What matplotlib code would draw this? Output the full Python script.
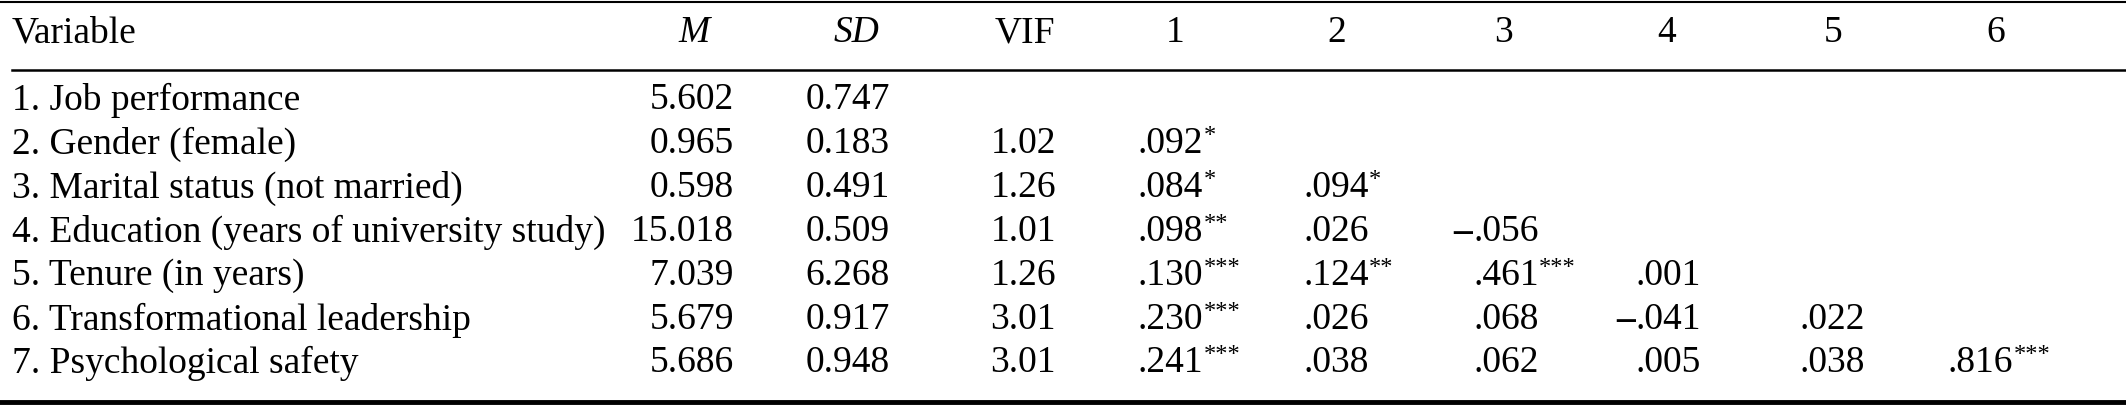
import matplotlib
matplotlib.use("Agg")
import matplotlib.pyplot as plt

variables = ["1. Job performance", "2. Gender (female)", "3. Marital status (not married)",
             "4. Education (years of university study)", "5. Tenure (in years)",
             "6. Transformational leadership", "7. Psychological safety"]
means = ["5.602", "0.965", "0.598", "15.018", "7.039", "5.679", "5.686"]
sds = ["0.747", "0.183", "0.491", "0.509", "6.268", "0.917", "0.948"]
vifs = ["", "1.02", "1.26", "1.01", "1.26", "3.01", "3.01"]
corr = [
    [],
    [(".092", "*")],
    [(".084", "*"), (".094", "*")],
    [(".098", "**"), (".026", ""), ("-.056", "")],
    [(".130", "***"), (".124", "**"), (".461", "***"), (".001", "")],
    [(".230", "***"), (".026", ""), (".068", ""), ("-.041", ""), (".022", "")],
    [(".241", "***"), (".038", ""), (".062", ""), (".005", ""), (".038", ""), (".816", "***")],
]
corr_headers = ["1", "2", "3", "4", "5", "6"]

W, H = 2126, 413
fig = plt.figure(figsize=(W / 100, H / 100), dpi=100)
ax = fig.add_axes([0, 0, 1, 1])
ax.set_xlim(0, W)
ax.set_ylim(H, 0)
ax.axis("off")
FONT = "Liberation Serif"
FS = 27
kw = dict(fontsize=FS, family=FONT, va="center")

ax.plot([0, W], [2, 2], color="black", lw=1.5)
ax.plot([12, W], [70, 70], color="black", lw=1.8)
ax.plot([0, W], [402, 402], color="black", lw=3.5)

hy = 33
ax.text(12, hy, "Variable", ha="left", **kw)
ax.text(694, hy, "M", ha="center", style="italic", **kw)
ax.text(857, hy, "SD", ha="center", style="italic", **kw)
ax.text(1025, hy, "VIF", ha="center", **kw)
hx = [1175, 1337, 1504, 1667, 1833, 1996]
vx = [1138, 1303, 1473, 1636, 1800, 1948]
for x, h in zip(hx, corr_headers):
    ax.text(x, hy, h, ha="center", **kw)

rows_y = [100, 144, 188, 232, 276, 320, 363]
for i, y in enumerate(rows_y):
    ax.text(12, y, variables[i], ha="left", **kw)
    ax.text(734, y, means[i], ha="right", **kw)
    ax.text(890, y, sds[i], ha="right", **kw)
    if vifs[i]:
        ax.text(1056, y, vifs[i], ha="right", **kw)
    for j, (val, st) in enumerate(corr[i]):
        x = vx[j]
        if val.startswith("-"):
            ax.text(x - 1, y, "\u2013", ha="right", fontsize=FS, family=FONT, va="center", weight="bold")
            val = val[1:]
        t = ax.text(x, y, val, ha="left", **kw)
        if st:
            ax.annotate(st, xy=(1, 1.05), xycoords=t, ha="left", va="top",
                        fontsize=FS * 0.65, family=FONT)

fig.savefig("out.png", dpi=100)
